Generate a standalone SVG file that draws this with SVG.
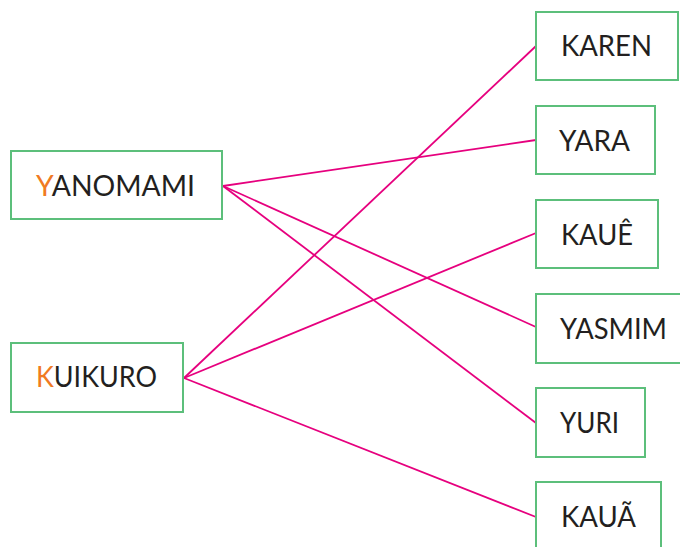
<svg xmlns="http://www.w3.org/2000/svg" width="680" height="547" viewBox="0 0 680 547">
<style>
.box{fill:#fff;stroke:#5cbf7b;stroke-width:2}
.lbl{font-family:"Lato","Liberation Sans",sans-serif;font-size:28px;fill:#231f20}
.ini{fill:#f07a22}
.ln{stroke:#e6007e;stroke-width:1.8;fill:none}
</style>
<rect width="680" height="547" fill="#fff"/>
<g id="connectors">
<line class="ln" x1="223" y1="186" x2="536" y2="140"/>
<line class="ln" x1="223" y1="186" x2="536" y2="327"/>
<line class="ln" x1="223" y1="186" x2="536" y2="423"/>
<line class="ln" x1="184" y1="378" x2="536" y2="46"/>
<line class="ln" x1="184" y1="378" x2="536" y2="233"/>
<line class="ln" x1="184" y1="378" x2="536" y2="517"/>
</g>
<g id="yanomami">
<rect class="box" x="11" y="151" width="211" height="68"/>
<text class="lbl" x="36" y="196" textLength="159" lengthAdjust="spacingAndGlyphs"><tspan class="ini">Y</tspan>ANOMAMI</text>
</g>
<g id="kuikuro">
<rect class="box" x="11" y="343" width="172" height="69"/>
<text class="lbl" x="36" y="387" textLength="121" lengthAdjust="spacingAndGlyphs"><tspan class="ini">K</tspan>UIKURO</text>
</g>
<g id="karen">
<rect class="box" x="536" y="12" width="142" height="68"/>
<text class="lbl" x="561" y="56" textLength="91" lengthAdjust="spacingAndGlyphs">KAREN</text>
</g>
<g id="yara">
<rect class="box" x="536" y="106" width="119" height="68"/>
<text class="lbl" x="559" y="151" textLength="71" lengthAdjust="spacingAndGlyphs">YARA</text>
</g>
<g id="kaue">
<rect class="box" x="536" y="200" width="122" height="68"/>
<text class="lbl" x="561" y="245" textLength="72" lengthAdjust="spacingAndGlyphs">KAUÊ</text>
</g>
<g id="yasmim">
<rect class="box" x="536" y="294" width="150" height="69"/>
<text class="lbl" x="560" y="339" textLength="107" lengthAdjust="spacingAndGlyphs">YASMIM</text>
</g>
<g id="yuri">
<rect class="box" x="536" y="388" width="109" height="69"/>
<text class="lbl" x="560" y="433" textLength="59" lengthAdjust="spacingAndGlyphs">YURI</text>
</g>
<g id="kaua">
<rect class="box" x="536" y="482" width="125" height="75"/>
<text class="lbl" x="561" y="527" textLength="75" lengthAdjust="spacingAndGlyphs">KAUÃ</text>
</g>
</svg>
